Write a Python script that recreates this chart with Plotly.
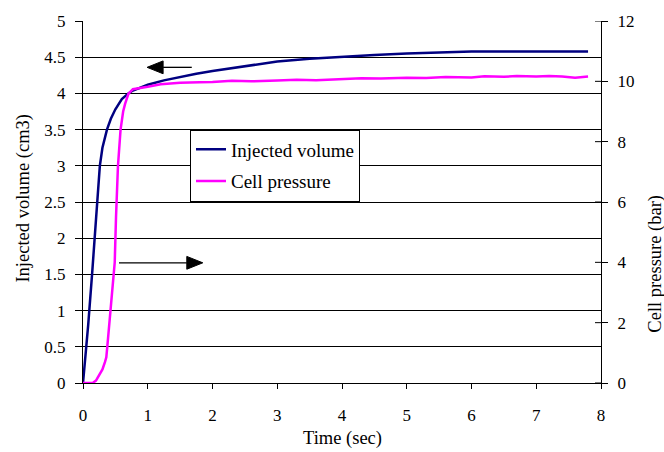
import plotly.graph_objects as go

vol_t = [0, 0.02, 0.05, 0.08, 0.1, 0.14, 0.18, 0.22, 0.26, 0.3, 0.37, 0.43, 0.5, 0.6, 0.7, 0.77, 0.85,
         1.0, 1.25, 1.5, 1.75, 2.0, 2.5, 3.0, 3.5, 4.0, 4.5, 5.0, 5.5, 6.0, 6.5, 7.0, 7.5, 7.8]
vol = [0, 0.25, 0.5, 0.8, 1.0, 1.5, 2.0, 2.5, 3.0, 3.25, 3.5, 3.65, 3.78, 3.92, 4.0, 4.04, 4.07,
       4.12, 4.18, 4.23, 4.27, 4.31, 4.38, 4.44, 4.48, 4.51, 4.53, 4.55, 4.57, 4.58, 4.58, 4.58, 4.58, 4.58]

p_t = [0, 0.1, 0.15, 0.2, 0.25, 0.3, 0.34, 0.36, 0.375, 0.4, 0.43, 0.47, 0.49, 0.51, 0.54, 0.58, 0.62,
       0.65, 0.7, 0.77, 0.9, 1.0, 1.2, 1.5, 1.8, 2.0, 2.3, 2.6, 3.0, 3.3, 3.6, 4.0, 4.3, 4.6,
       5.0, 5.3, 5.6, 6.0, 6.2, 6.5, 6.7, 7.0, 7.2, 7.4, 7.6, 7.8]
pressure = [0, 0, 0.0, 0.08, 0.25, 0.45, 0.7, 0.85, 1.2, 1.8, 2.4, 3.6, 4.0, 5.5, 7.2, 8.4, 9.0,
            9.25, 9.58, 9.74, 9.78, 9.82, 9.9, 9.95, 9.97, 9.98, 10.02, 10.0, 10.03, 10.05, 10.04, 10.08, 10.1, 10.09,
            10.12, 10.11, 10.14, 10.13, 10.17, 10.15, 10.18, 10.16, 10.18, 10.16, 10.12, 10.16]

x_ticks = [0, 1, 2, 3, 4, 5, 6, 7, 8]
y_ticks = [0, 0.5, 1, 1.5, 2, 2.5, 3, 3.5, 4, 4.5, 5]
y2_ticks = [0, 2, 4, 6, 8, 10, 12]

# arrows: (tail_x, tip_x, y) in left-axis data units
arrows = [(1.68, 0.99, 4.36), (0.556, 1.85, 1.66)]

FONT = "Liberation Serif"
TICKFONT = dict(family=FONT, size=17, color="black")
PX_X = 518 / 8      # pixels per x unit
PX_Y = 367 / 5      # pixels per left-y unit

fig = go.Figure()
fig.add_trace(go.Scatter(x=vol_t, y=vol, mode="lines", name="Injected volume", legendgroup="a",
                         line=dict(color="#000080", width=2.5)))
fig.add_trace(go.Scatter(x=p_t, y=pressure, mode="lines", name="Cell pressure", yaxis="y2", legendgroup="b",
                         line=dict(color="#FF00FF", width=2.5)))

fig.update_layout(
    width=664, height=452,
    margin=dict(l=83, r=63, t=16, b=69),
    paper_bgcolor="white", plot_bgcolor="white",
    font=dict(family=FONT, size=17, color="black"),
    showlegend=True,
    legend=dict(x=(190 - 83) / 518, y=(383 - 126) / 367, xanchor="left", yanchor="top",
                bordercolor="black", borderwidth=1, bgcolor="white",
                font=dict(size=19, family=FONT, color="black"), tracegroupgap=4),
    xaxis=dict(range=[0, 8], tickvals=x_ticks, ticks="outside", ticklen=5, tickcolor="black",
               showline=True, linecolor="black", linewidth=1, showgrid=False, zeroline=False,
               tickfont=TICKFONT, ticklabelstandoff=12),
    yaxis=dict(range=[0, 5], tickvals=y_ticks, ticks="outside", ticklen=7, tickcolor="black",
               showline=True, linecolor="black", linewidth=1,
               showgrid=True, gridcolor="black", gridwidth=1, zeroline=False,
               tickfont=TICKFONT, ticklabelstandoff=6),
    yaxis2=dict(range=[0, 12], tickvals=y2_ticks, overlaying="y", side="right",
                ticks="outside", ticklen=6, tickcolor="black",
                showline=True, linecolor="black", linewidth=1, showgrid=False, zeroline=False,
                tickfont=TICKFONT, ticklabelstandoff=6),
)

# inner half of the crossing ticks on the right axis
for v in y2_ticks:
    fig.add_shape(type="line", xref="paper", yref="y2", x0=1 - 6 / 518, x1=1, y0=v, y1=v,
                  line=dict(color="black", width=1))

# direction arrows drawn as shaft + filled triangular head
HEAD_L, HEAD_H = 16, 6.5   # pixels
for tail, tip, yv in arrows:
    d = 1 if tip > tail else -1
    base = tip - d * HEAD_L / PX_X
    fig.add_shape(type="line", xref="x", yref="y", x0=tail, x1=base, y0=yv, y1=yv,
                  line=dict(color="black", width=1.3))
    hy = HEAD_H / PX_Y
    fig.add_shape(type="path", xref="x", yref="y",
                  path=f"M {tip} {yv} L {base} {yv + hy} L {base} {yv - hy} Z",
                  fillcolor="black", line=dict(color="black", width=1))

# axis titles
fig.add_annotation(text="Time (sec)", xref="paper", yref="paper", x=0.5, y=-(439 - 383) / 367,
                   xanchor="center", yanchor="middle", showarrow=False, font=dict(size=18.5))
fig.add_annotation(text="Injected volume (cm3)", xref="paper", yref="paper", x=-(83 - 24) / 518,
                   y=(383 - 196) / 367, xanchor="center", yanchor="middle", textangle=-90,
                   showarrow=False, font=dict(size=18.5))
fig.add_annotation(text="Cell pressure (bar)", xref="paper", yref="paper", x=1 + (656 - 601) / 518,
                   y=(383 - 262) / 367, xanchor="center", yanchor="middle", textangle=-90,
                   showarrow=False, font=dict(size=18.5))

fig.write_html("out.html")
